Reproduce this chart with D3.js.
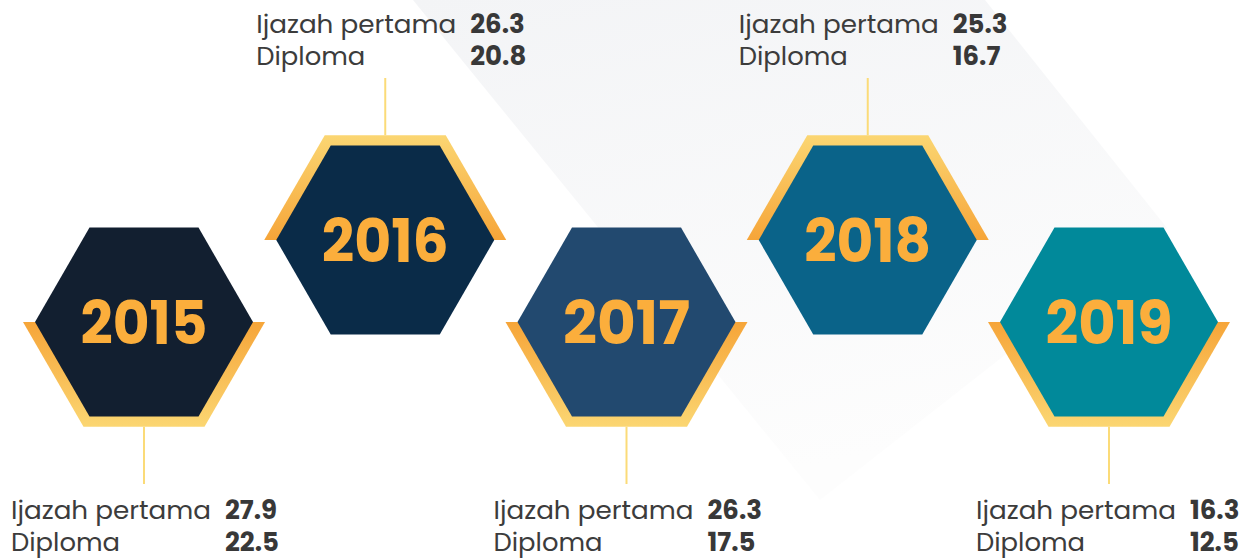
<!DOCTYPE html>
<html>
<head>
<meta charset="utf-8">
<script src="https://cdn.jsdelivr.net/npm/d3@7"></script>
<style>
  html, body { margin: 0; padding: 0; background: #fff; }
  svg { display: block; }
</style>
</head>
<body>
<script>
var svgWidth = 1248;
var svgHeight = 558;

// data
var years = ["2015", "2016", "2017", "2018", "2019"];
var ijazahPertama = [27.9, 26.3, 26.3, 25.3, 16.3];
var diploma = [22.5, 20.8, 17.5, 16.7, 12.5];
var rows = ["bawah", "atas", "bawah", "atas", "bawah"];
var hexColors = ["#121f30", "#0a2b48", "#22496f", "#0a6389", "#01899a"];
var labelNames = ["Ijazah pertama", "Diploma"];

var fmt = d3.format(".1f");

var data = years.map(function (y, i) {
    return { year: y, ijazah: ijazahPertama[i], diploma: diploma[i], row: rows[i], color: hexColors[i] };
});

var xScale = d3.scalePoint()
    .domain(years)
    .range([144, 1109]);

var yScale = d3.scaleOrdinal()
    .domain(["atas", "bawah"])
    .range([240, 322]);

var R = 109;      // hexagon radius
var Rg = 121;     // gold frame radius
var s3 = Math.sqrt(3) / 2;

var svg = d3.select("body")
    .append("svg")
    .attr("width", svgWidth)
    .attr("height", svgHeight)
    .style("font-family", "Poppins, 'Open Sans', sans-serif");

var defs = svg.append("defs");

var bgGrad = defs.append("linearGradient")
    .attr("id", "bgGrad")
    .attr("x1", 0).attr("y1", 0).attr("x2", 0.3).attr("y2", 1);
bgGrad.append("stop").attr("offset", "0%").attr("stop-color", "#f3f4f6");
bgGrad.append("stop").attr("offset", "100%").attr("stop-color", "#fdfdfd");

var goldDown = defs.append("linearGradient")
    .attr("id", "goldDown")
    .attr("x1", 0).attr("y1", 0).attr("x2", 0).attr("y2", 1);
goldDown.append("stop").attr("offset", "0%").attr("stop-color", "#f6a539");
goldDown.append("stop").attr("offset", "100%").attr("stop-color", "#fbd672");

var goldUp = defs.append("linearGradient")
    .attr("id", "goldUp")
    .attr("x1", 0).attr("y1", 1).attr("x2", 0).attr("y2", 0);
goldUp.append("stop").attr("offset", "0%").attr("stop-color", "#f6a539");
goldUp.append("stop").attr("offset", "100%").attr("stop-color", "#fbd672");

// light background band
svg.append("polygon")
    .attr("points", "413,0 820,500 1167,228 985,0")
    .attr("fill", "url(#bgGrad)");

var line = d3.line();

function hexPoints(cx, cy, r) {
    return d3.range(6).map(function (k) {
        var a = Math.PI / 3 * k;
        return [cx + r * Math.cos(a), cy + r * Math.sin(a)];
    });
}

var groups = svg.selectAll(".hex")
    .data(data)
    .enter()
    .append("g")
    .attr("class", "hex");

// connector lines
groups.append("line")
    .attr("x1", d => xScale(d.year))
    .attr("x2", d => xScale(d.year))
    .attr("y1", d => d.row === "atas" ? yScale(d.row) - Rg * s3 : yScale(d.row) + Rg * s3)
    .attr("y2", d => d.row === "atas" ? 78 : 484)
    .attr("stroke", "#fbdb78")
    .attr("stroke-width", 2);

// gold half frame
groups.append("path")
    .attr("d", function (d) {
        var cx = xScale(d.year), cy = yScale(d.row);
        var dir = d.row === "atas" ? -1 : 1;
        return line([
            [cx - Rg, cy],
            [cx - Rg / 2, cy + dir * Rg * s3],
            [cx + Rg / 2, cy + dir * Rg * s3],
            [cx + Rg, cy]
        ]) + "Z";
    })
    .attr("fill", d => d.row === "atas" ? "url(#goldUp)" : "url(#goldDown)");

// hexagon
groups.append("path")
    .attr("d", d => line(hexPoints(xScale(d.year), yScale(d.row), R)) + "Z")
    .attr("fill", d => d.color);

// year
groups.append("text")
    .attr("x", d => xScale(d.year))
    .attr("y", d => yScale(d.row) + 22)
    .attr("text-anchor", "middle")
    .attr("font-size", 60)
    .attr("font-weight", 700)
    .attr("fill", "#fbae3c")
    .attr("textLength", 127)
    .attr("lengthAdjust", "spacingAndGlyphs")
    .text(d => d.year);

// labels
groups.each(function (d) {
    var g = d3.select(this);
    var x0 = xScale(d.year) - (d.row === "atas" ? 129 : 133);
    var base = d.row === "atas" ? 33 : 519;
    var vals = [d.ijazah, d.diploma];
    labelNames.forEach(function (name, j) {
        g.append("text")
            .attr("x", x0)
            .attr("y", base + j * 31.5)
            .attr("font-size", 25)
            .attr("fill", "#3c3c3c")
            .attr("textLength", j === 0 ? 200 : 109)
            .attr("lengthAdjust", "spacingAndGlyphs")
            .text(name);
        g.append("text")
            .attr("x", x0 + 214)
            .attr("y", base + j * 31.5)
            .attr("font-size", 26)
            .attr("font-weight", 700)
            .attr("fill", "#383838")
            .text(fmt(vals[j]));
    });
});
</script>
</body>
</html>
